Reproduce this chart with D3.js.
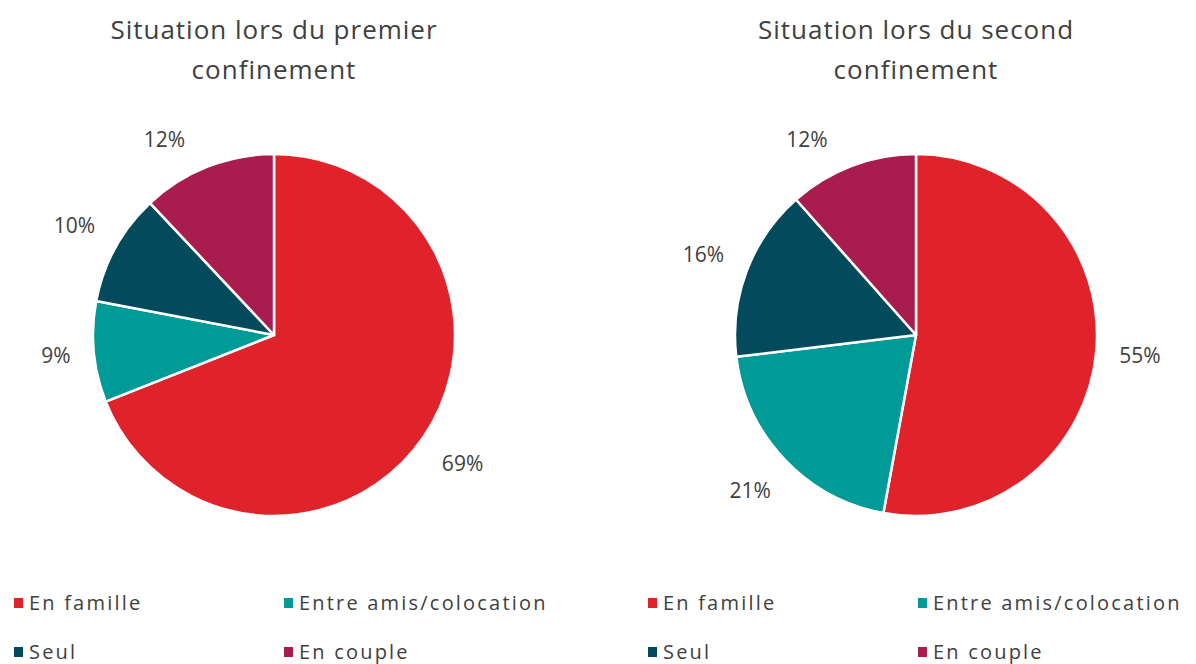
<!DOCTYPE html>
<html>
<head>
<meta charset="utf-8">
<script src="https://cdn.jsdelivr.net/npm/d3@7"></script>
<style>
  body { margin: 0; background: #fff; }
  svg text { font-family: "Open Sans", Lato, sans-serif; fill: #404040; }
</style>
</head>
<body>
<svg id="svgCanvas" width="1196" height="664"></svg>
<script>
// categories and values
let categories = ["En famille", "Entre amis/colocation", "Seul", "En couple"];
let colours = ["#e0232a", "#009b96", "#034b5c", "#a81c4e"];
let premierValues = [69, 9, 10, 12];
let secondValues = [55, 21, 16, 12];
let titles = [
    ["Situation lors du premier", "confinement"],
    ["Situation lors du second", "confinement"]
];

window.addEventListener('DOMContentLoaded', (event) => {
    let svg = d3.select('#svgCanvas');
    let colour = d3.scaleOrdinal().domain(categories).range(colours);

    let pie = d3.pie().sort(null).value(d => d.value);
    let radius = 181;
    let arc = d3.arc().innerRadius(0).outerRadius(radius);

    let charts = [
        { cx: 274, cy: 335, values: premierValues, title: titles[0], legendX: 14 },
        { cx: 916, cy: 335, values: secondValues, title: titles[1], legendX: 648 }
    ];

    charts.forEach(chart => {
        let data = categories.map((c, i) => ({ name: c, value: chart.values[i] }));

        svg.append('text')
            .attr('x', chart.cx)
            .attr('text-anchor', 'middle')
            .style('font-size', '26px')
            .style('letter-spacing', '1px')
            .selectAll('tspan')
            .data(chart.title)
            .join('tspan')
            .attr('x', chart.cx)
            .attr('y', (d, i) => 39 + i * 40)
            .text(d => d);

        let g = svg.append('g')
            .attr('transform', `translate(${chart.cx},${chart.cy})`);

        let arcs = pie(data);

        g.selectAll('path')
            .data(arcs)
            .join('path')
            .attr('d', arc)
            .attr('fill', d => colour(d.data.name))
            .attr('stroke', '#fff')
            .attr('stroke-width', 2.5)
            .attr('stroke-linejoin', 'round');

        // labels outside the slice end, kept below the plot top like Excel does
        let minY = 126 - chart.cy;
        g.selectAll('text')
            .data(arcs)
            .join('text')
            .attr('text-anchor', 'middle')
            .attr('dy', '0.35em')
            .style('font-size', '21px')
            .text(d => d.data.value + '%')
            .attr('transform', function (d) {
                let box = this.getBBox();
                let a = (d.startAngle + d.endAngle) / 2;
                let sx = Math.sin(a), sy = -Math.cos(a);
                let dist = radius + 22 + Math.abs(sx) * box.width / 2 + Math.abs(sy) * box.height / 2;
                let x = sx * dist, y = sy * dist;
                if (y - box.height / 2 < minY) {
                    y = minY + box.height / 2;
                    x = Math.sign(sx) * Math.sqrt(Math.max(dist * dist - y * y, 0));
                }
                return `translate(${x},${y})`;
            });

        // legend, two columns, two rows
        let legend = svg.append('g')
            .attr('transform', `translate(${chart.legendX},0)`);
        let item = legend.selectAll('g')
            .data(categories)
            .join('g')
            .attr('transform', (d, i) => `translate(${(i % 2) * 270},${603 + Math.floor(i / 2) * 49})`);
        item.append('rect')
            .attr('x', 0)
            .attr('y', -5)
            .attr('width', 9)
            .attr('height', 10)
            .attr('fill', d => colour(d));
        item.append('text')
            .attr('x', 15)
            .attr('dy', '0.35em')
            .style('font-size', '20px')
            .style('letter-spacing', '2.2px')
            .text(d => d);
    });
});
</script>
</body>
</html>
